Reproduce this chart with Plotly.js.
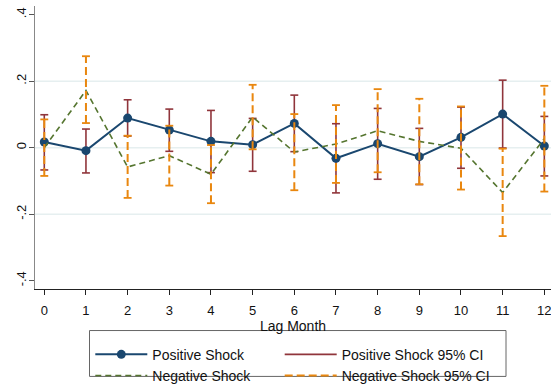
<!DOCTYPE html>
<html>
<head>
<meta charset="utf-8">
<script src="https://cdn.plot.ly/plotly-3.0.1.min.js"></script>
<style>html,body{margin:0;padding:0;background:#fff;}#chart{width:551px;height:392px;}</style>
</head>
<body>
<div id="chart"></div>
<script>
// ---- data ----
const lags = [0, 1, 2, 3, 4, 5, 6, 7, 8, 9, 10, 11, 12];
const posShock = [0.017, -0.009, 0.089, 0.053, 0.019, 0.009, 0.073, -0.032, 0.012, -0.027, 0.031, 0.101, 0.005];
const posLow   = [-0.067, -0.076, 0.035, -0.011, -0.075, -0.071, -0.012, -0.136, -0.095, -0.111, -0.062, -0.001, -0.085];
const posHigh  = [0.099, 0.056, 0.144, 0.116, 0.112, 0.088, 0.158, 0.072, 0.118, 0.058, 0.122, 0.203, 0.094];
const negShock = [0.000, 0.172, -0.058, -0.024, -0.080, 0.092, -0.013, 0.011, 0.051, 0.019, -0.002, -0.135, 0.027];
const negLow   = [-0.085, 0.074, -0.151, -0.114, -0.167, -0.005, -0.128, -0.106, -0.074, -0.110, -0.126, -0.266, -0.132];
const negHigh  = [0.085, 0.275, 0.036, 0.066, 0.008, 0.189, 0.101, 0.128, 0.176, 0.147, 0.124, -0.003, 0.186];
const yTickVals = [-0.4, -0.2, 0, 0.2, 0.4];
const yTickText = ['-.4', '-.2', '0', '.2', '.4'];
const gridVals = [-0.2, 0, 0.2];
const seriesNames = ['Positive Shock', 'Positive Shock 95% CI', 'Negative Shock', 'Negative Shock 95% CI'];

// ---- styles ----
const NAVY = '#1a476f', MAROON = '#90353b', GREEN = '#55752f', ORANGE = '#e9870f';
const FONT = 'Liberation Sans, Arial, sans-serif';
const CAP = 0.095; // cap half-width in x units

function spikes(xs, lo, hi) {
  const x = [], y = [];
  xs.forEach((v, i) => { x.push(v, v, null); y.push(lo[i], hi[i], null); });
  return {x, y};
}
function caps(xs, lo, hi) {
  const x = [], y = [];
  xs.forEach((v, i) => {
    [lo[i], hi[i]].forEach(e => { x.push(v - CAP, v + CAP, null); y.push(e, e, null); });
  });
  return {x, y};
}

const posSp = spikes(lags, posLow, posHigh), posCp = caps(lags, posLow, posHigh);
const negSp = spikes(lags, negLow, negHigh), negCp = caps(lags, negLow, negHigh);

const traces = [
  {x: posSp.x, y: posSp.y, type: 'scatter', mode: 'lines', name: seriesNames[1], legend: 'legend2', legendrank: 1,
   line: {color: MAROON, width: 1.6}, hoverinfo: 'skip'},
  {x: posCp.x, y: posCp.y, type: 'scatter', mode: 'lines', showlegend: false,
   line: {color: MAROON, width: 1.6}, hoverinfo: 'skip'},
  {x: lags, y: posShock, type: 'scatter', mode: 'lines+markers', name: seriesNames[0], legend: 'legend', legendrank: 1,
   line: {color: NAVY, width: 2}, marker: {color: NAVY, size: 9}},
  {x: lags, y: negShock, type: 'scatter', mode: 'lines', name: seriesNames[2], legend: 'legend', legendrank: 2,
   line: {color: GREEN, width: 1.6, dash: '6px,4px'}},
  {x: negSp.x, y: negSp.y, type: 'scatter', mode: 'lines', name: seriesNames[3], legend: 'legend2', legendrank: 2,
   line: {color: ORANGE, width: 2, dash: '8px,4px'}, hoverinfo: 'skip'},
  {x: negCp.x, y: negCp.y, type: 'scatter', mode: 'lines', showlegend: false,
   line: {color: ORANGE, width: 1.8}, hoverinfo: 'skip'}
];

// layout geometry (pixels)
const W = 551, H = 392, ML = 35, MR = 0, MT = 6, MB = 93;
const PW = W - ML - MR, PH = H - MT - MB;
const px2x = p => (p - ML) / PW;
const px2y = p => (H - MB - p) / PH;

const shapes = gridVals.map(v => ({
  type: 'line', xref: 'paper', yref: 'y', x0: 0, x1: 1, y0: v, y1: v,
  line: {color: '#e6eff0', width: 1.5}, layer: 'below'
}));
shapes.push({
  type: 'rect', xref: 'paper', yref: 'paper',
  x0: px2x(89.5), x1: px2x(506), y0: px2y(342), y1: px2y(389.5),
  line: {color: '#666', width: 1}, fillcolor: 'rgba(0,0,0,0)'
});

const legendBase = {
  orientation: 'v', xanchor: 'left', yanchor: 'top', itemwidth: 52,
  borderwidth: 0, bgcolor: 'rgba(0,0,0,0)', tracegroupgap: 0, traceorder: 'normal',
  font: {size: 14, family: FONT, color: '#111'}
};

const layout = {
  width: W, height: H,
  margin: {l: ML, r: MR, t: MT, b: MB, pad: 0},
  paper_bgcolor: '#fff', plot_bgcolor: '#fff',
  font: {family: FONT, color: '#111', size: 13},
  showlegend: true,
  xaxis: {
    range: [-0.223, 12.16], tickmode: 'array', tickvals: lags,
    ticks: 'outside', ticklen: 5, tickcolor: '#222', tickwidth: 1,
    showline: true, linecolor: '#222', linewidth: 1.2,
    showgrid: false, zeroline: false, ticklabeloverflow: 'allow', ticklabelstandoff: 4,
    tickfont: {size: 13, family: FONT},
    title: {text: 'Lag Month', font: {size: 14, family: FONT}, standoff: 0}
  },
  yaxis: {
    range: [-0.425, 0.426], tickmode: 'array', tickvals: yTickVals, ticktext: yTickText,
    tickangle: -90, ticks: 'outside', ticklen: 5, tickcolor: '#555', tickwidth: 1,
    showline: true, linecolor: '#888', linewidth: 1.5,
    showgrid: false, zeroline: false, ticklabelstandoff: -3,
    tickfont: {size: 13, family: FONT}
  },
  legend: Object.assign({}, legendBase, {x: px2x(90.3), y: px2y(350.5)}),
  legend2: Object.assign({}, legendBase, {x: px2x(279.7), y: px2y(350.5)}),
  shapes: shapes
};

Plotly.newPlot('chart', traces, layout, {staticPlot: true, displayModeBar: false});
</script>
</body>
</html>
